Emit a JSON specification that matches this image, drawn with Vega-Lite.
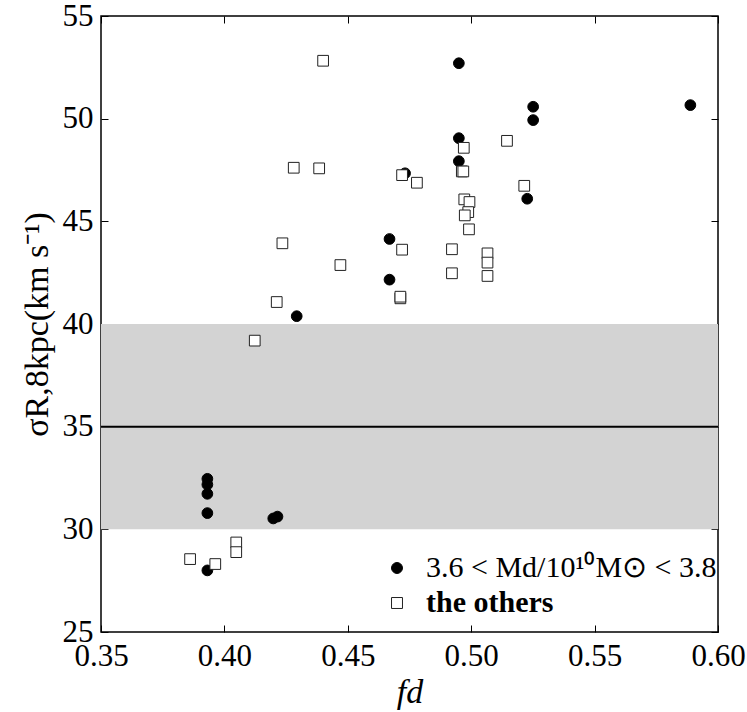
{
  "$schema": "https://vega.github.io/schema/vega-lite/v6.json",
  "width": 617,
  "height": 616,
  "autosize": "none",
  "padding": {"left": 101, "top": 16, "right": 29, "bottom": 80},
  "background": "white",
  "config": {
    "view": {"stroke": "black", "strokeWidth": 1.5},
    "font": "Liberation Serif",
    "axis": {"grid": false, "domain": false, "tickColor": "black", "tickWidth": 1, "labelColor": "black", "titleColor": "black", "labelFont": "Liberation Serif", "titleFont": "Liberation Serif", "titleFontWeight": "normal", "labelFlush": false, "labelOverlap": false},
    "legend": {"title": null, "orient": "none", "legendX": 281, "legendY": 537, "padding": 0, "labelFontSize": 30, "labelFont": "Liberation Serif", "labelColor": "black", "labelOffset": 14, "labelLimit": 500, "rowPadding": 5, "symbolSize": 120, "symbolStrokeWidth": 1}
  },
  "layer": [
    {
      "data": {"values": [{"x0": 0.35, "x1": 0.6, "y0": 30, "y1": 40}]},
      "mark": {"type": "rect", "color": "#d3d3d3"},
      "encoding": {
        "x": {"field": "x0", "type": "quantitative", "scale": {"domain": [0.35, 0.6], "nice": false, "zero": false},
          "axis": {"orient": "bottom", "values": [0.35, 0.4, 0.45, 0.5, 0.55, 0.6], "format": ".2f", "labelFontSize": 31, "tickSize": -7, "labelPadding": 16, "title": "fd", "titleFontSize": 34, "titleFontStyle": "italic", "titlePadding": 4}},
        "x2": {"field": "x1"},
        "y": {"field": "y0", "type": "quantitative", "scale": {"domain": [25, 55], "nice": false, "zero": false},
          "axis": {"orient": "left", "values": [25, 30, 35, 40, 45, 50, 55], "labelFontSize": 31, "tickSize": -7, "labelPadding": 15, "title": "σR,8kpc(km s⁻¹)", "titleFontSize": 34, "titlePadding": 8}},
        "y2": {"field": "y1"}
      }
    },
    {
      "data": {"values": [{"x0": 0.35, "x1": 0.6, "y": 35}]},
      "mark": {"type": "rule", "color": "black", "strokeWidth": 2},
      "encoding": {
        "x": {"field": "x0", "type": "quantitative",
          "axis": {"orient": "top", "values": [0.35, 0.4, 0.45, 0.5, 0.55, 0.6], "labels": false, "tickSize": -7, "title": null}},
        "x2": {"field": "x1"},
        "y": {"field": "y", "type": "quantitative",
          "axis": {"orient": "right", "values": [25, 30, 35, 40, 45, 50, 55], "labels": false, "tickSize": -7, "title": null}}
      }
    },
    {
      "data": {"values": [
        {"fd": 0.4950, "sigma": 52.70, "group": "3.6 < Md/10¹⁰M⊙ < 3.8"},
        {"fd": 0.5251, "sigma": 50.58, "group": "3.6 < Md/10¹⁰M⊙ < 3.8"},
        {"fd": 0.5251, "sigma": 49.93, "group": "3.6 < Md/10¹⁰M⊙ < 3.8"},
        {"fd": 0.4950, "sigma": 49.05, "group": "3.6 < Md/10¹⁰M⊙ < 3.8"},
        {"fd": 0.4950, "sigma": 47.93, "group": "3.6 < Md/10¹⁰M⊙ < 3.8"},
        {"fd": 0.4732, "sigma": 47.34, "group": "3.6 < Md/10¹⁰M⊙ < 3.8"},
        {"fd": 0.5227, "sigma": 46.10, "group": "3.6 < Md/10¹⁰M⊙ < 3.8"},
        {"fd": 0.4669, "sigma": 44.14, "group": "3.6 < Md/10¹⁰M⊙ < 3.8"},
        {"fd": 0.4669, "sigma": 42.16, "group": "3.6 < Md/10¹⁰M⊙ < 3.8"},
        {"fd": 0.4293, "sigma": 40.38, "group": "3.6 < Md/10¹⁰M⊙ < 3.8"},
        {"fd": 0.5888, "sigma": 50.66, "group": "3.6 < Md/10¹⁰M⊙ < 3.8"},
        {"fd": 0.3931, "sigma": 32.46, "group": "3.6 < Md/10¹⁰M⊙ < 3.8"},
        {"fd": 0.3931, "sigma": 32.18, "group": "3.6 < Md/10¹⁰M⊙ < 3.8"},
        {"fd": 0.3931, "sigma": 31.73, "group": "3.6 < Md/10¹⁰M⊙ < 3.8"},
        {"fd": 0.3931, "sigma": 30.79, "group": "3.6 < Md/10¹⁰M⊙ < 3.8"},
        {"fd": 0.4198, "sigma": 30.53, "group": "3.6 < Md/10¹⁰M⊙ < 3.8"},
        {"fd": 0.4215, "sigma": 30.62, "group": "3.6 < Md/10¹⁰M⊙ < 3.8"},
        {"fd": 0.3931, "sigma": 28.00, "group": "3.6 < Md/10¹⁰M⊙ < 3.8"},
        {"fd": 0.4400, "sigma": 52.82, "group": "the others"},
        {"fd": 0.4281, "sigma": 47.61, "group": "the others"},
        {"fd": 0.4384, "sigma": 47.58, "group": "the others"},
        {"fd": 0.4235, "sigma": 43.93, "group": "the others"},
        {"fd": 0.4470, "sigma": 42.87, "group": "the others"},
        {"fd": 0.4212, "sigma": 41.07, "group": "the others"},
        {"fd": 0.4123, "sigma": 39.19, "group": "the others"},
        {"fd": 0.4970, "sigma": 48.58, "group": "the others"},
        {"fd": 0.5145, "sigma": 48.92, "group": "the others"},
        {"fd": 0.4962, "sigma": 47.43, "group": "the others"},
        {"fd": 0.4968, "sigma": 47.43, "group": "the others"},
        {"fd": 0.4720, "sigma": 47.25, "group": "the others"},
        {"fd": 0.4780, "sigma": 46.88, "group": "the others"},
        {"fd": 0.5215, "sigma": 46.73, "group": "the others"},
        {"fd": 0.4972, "sigma": 46.07, "group": "the others"},
        {"fd": 0.4993, "sigma": 45.94, "group": "the others"},
        {"fd": 0.4988, "sigma": 45.45, "group": "the others"},
        {"fd": 0.4974, "sigma": 45.29, "group": "the others"},
        {"fd": 0.4991, "sigma": 44.61, "group": "the others"},
        {"fd": 0.4720, "sigma": 43.62, "group": "the others"},
        {"fd": 0.4922, "sigma": 43.64, "group": "the others"},
        {"fd": 0.5066, "sigma": 43.44, "group": "the others"},
        {"fd": 0.5066, "sigma": 42.99, "group": "the others"},
        {"fd": 0.4922, "sigma": 42.47, "group": "the others"},
        {"fd": 0.5066, "sigma": 42.34, "group": "the others"},
        {"fd": 0.4713, "sigma": 41.25, "group": "the others"},
        {"fd": 0.4713, "sigma": 41.33, "group": "the others"},
        {"fd": 0.4048, "sigma": 29.36, "group": "the others"},
        {"fd": 0.4048, "sigma": 28.89, "group": "the others"},
        {"fd": 0.3861, "sigma": 28.55, "group": "the others"},
        {"fd": 0.3963, "sigma": 28.31, "group": "the others"}
      ]},
      "mark": {"type": "point", "strokeWidth": 1, "opacity": 1, "size": 115},
      "encoding": {
        "x": {"field": "fd", "type": "quantitative", "axis": null},
        "y": {"field": "sigma", "type": "quantitative", "axis": null},
        "shape": {"field": "group", "type": "nominal", "scale": {"domain": ["3.6 < Md/10¹⁰M⊙ < 3.8", "the others"], "range": ["circle", "square"]},
          "legend": {"labelFontWeight": {"expr": "datum.label == 'the others' ? 'bold' : 'normal'"}}},
        "fill": {"field": "group", "type": "nominal", "scale": {"domain": ["3.6 < Md/10¹⁰M⊙ < 3.8", "the others"], "range": ["black", "white"]},
          "legend": {"labelFontWeight": {"expr": "datum.label == 'the others' ? 'bold' : 'normal'"}}},
        "stroke": {"field": "group", "type": "nominal", "scale": {"domain": ["3.6 < Md/10¹⁰M⊙ < 3.8", "the others"], "range": ["black", "#222222"]},
          "legend": {"labelFontWeight": {"expr": "datum.label == 'the others' ? 'bold' : 'normal'"}}}
      }
    }
  ],
  "resolve": {"axis": {"x": "independent", "y": "independent"}}
}
